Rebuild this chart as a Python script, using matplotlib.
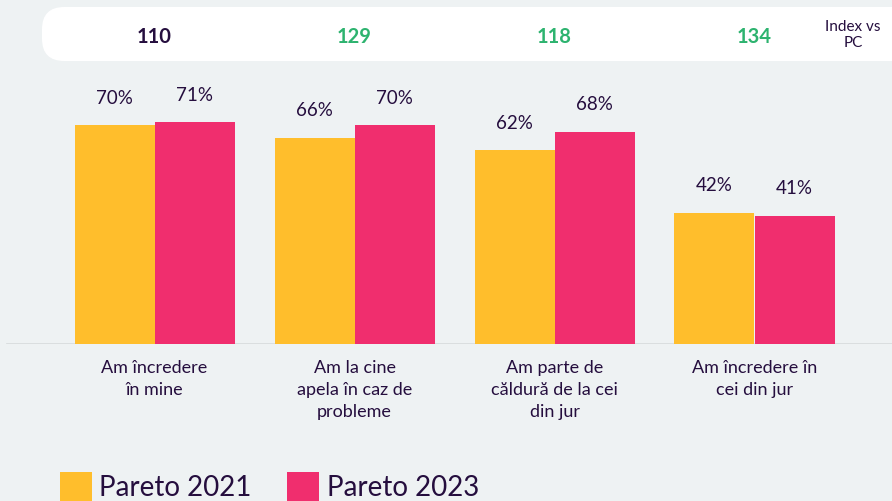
import matplotlib.pyplot as plt
from matplotlib.patches import FancyBboxPatch, Rectangle

plt.rcParams['font.family'] = ['Lato', 'DejaVu Sans']

categories = ['Am încredere\nîn mine', 'Am la cine\napela în caz de\nprobleme',
              'Am parte de\ncăldură de la cei\ndin jur', 'Am încredere în\ncei din jur']
pareto_2021 = [70, 66, 62, 42]
pareto_2023 = [71, 70, 68, 41]
index_vs_pc = [110, 129, 118, 134]
index_colors = ['#250E3E', '#2DB36F', '#2DB36F', '#2DB36F']

BG = '#EEF2F3'
YELLOW = '#FFBE2C'
PINK = '#F02E6E'
DARK = '#250E3E'

W, H = 892, 502
fig = plt.figure(figsize=(W / 100, H / 100), dpi=100, facecolor=BG)

# top white box with index values
box = FancyBboxPatch((42 / W, 1 - 62 / H), 900 / W, 54 / H,
                     boxstyle='round,pad=0,rounding_size=0.025',
                     transform=fig.transFigure, facecolor='white',
                     edgecolor='none', mutation_aspect=W / H, zorder=0)
fig.patches.append(box)

# axes: baseline at 345 px, top of figure at 0 px
ax = fig.add_axes([0, 1 - 345 / H, 1, 345 / H])
ax.set_zorder(2)
ax.set_facecolor('none')
px_per_unit = 200
x0 = 154.5
ax.set_xlim(-x0 / px_per_unit, (W - x0) / px_per_unit)
ax.set_ylim(0, 345 / 3.125)
for s in ax.spines.values():
    s.set_visible(False)
ax.set_xticks([])
ax.set_yticks([])

bw = 0.4
xs = list(range(len(categories)))
ax.bar([x - bw / 2 for x in xs], pareto_2021, width=bw, color=YELLOW, zorder=2)
ax.bar([x + bw / 2 for x in xs], pareto_2023, width=bw, color=PINK, zorder=2)
ax.axhline(0, xmin=7 / W, xmax=1, color='#D6DADC', lw=1.2, zorder=1)

for x, a, b in zip(xs, pareto_2021, pareto_2023):
    ax.annotate(f'{a}%', (x - bw / 2, a), xytext=(0, 28), textcoords='offset pixels',
                ha='center', va='center', fontsize=13.5, color=DARK)
    ax.annotate(f'{b}%', (x + bw / 2, b), xytext=(0, 28), textcoords='offset pixels',
                ha='center', va='center', fontsize=13.5, color=DARK)

for x, lab in zip(xs, categories):
    ax.annotate(lab, (x, 0), xytext=(0, -15), textcoords='offset pixels',
                ha='center', va='top', fontsize=13, color=DARK, linespacing=1.45)

for x, v, c in zip(xs, index_vs_pc, index_colors):
    fig.text((x0 + x * px_per_unit) / W, 1 - 37 / H, str(v), ha='center',
             va='center', fontsize=14.5, fontweight='bold', color=c, zorder=3)

fig.text(853 / W, 1 - 35 / H, 'Index vs\nPC', ha='center', va='center',
         fontsize=11, color=DARK, linespacing=1.1, zorder=3)

# legend
fig.patches.append(Rectangle((60 / W, 0), 32 / W, 29 / H, transform=fig.transFigure,
                             facecolor=YELLOW, edgecolor='none'))
fig.text(99 / W, 1 - 488 / H, 'Pareto 2021', ha='left', va='center',
         fontsize=20, color=DARK)
fig.patches.append(Rectangle((287 / W, 0), 32 / W, 29 / H, transform=fig.transFigure,
                             facecolor=PINK, edgecolor='none'))
fig.text(327 / W, 1 - 488 / H, 'Pareto 2023', ha='left', va='center',
         fontsize=20, color=DARK)

fig.savefig('out.png', dpi=100, facecolor=BG)
